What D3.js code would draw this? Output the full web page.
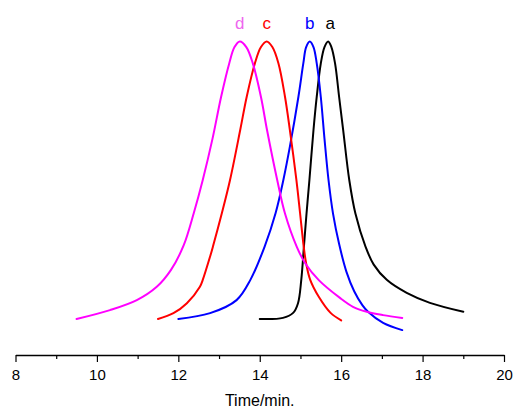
<!DOCTYPE html>
<html>
<head>
<meta charset="utf-8">
<script src="https://cdnjs.cloudflare.com/ajax/libs/d3/7.8.5/d3.min.js"></script>
<style>
html,body{margin:0;padding:0;background:#fff;}
svg{display:block;}
</style>
</head>
<body>
<svg id="chart" width="513" height="412"></svg>
<script>
// ---- data (time in min, normalised detector response) ----
const seriesNames = ["a", "b", "c", "d"];
const seriesColors = ["#000000", "#0000ff", "#ff0000", "#ff00ff"];
const labelColors = ["#000000", "#0000ff", "#ff0000", "#ee66ee"];

const timeA = [14.0, 14.57, 14.82, 14.94, 15.02, 15.085, 15.15, 15.22, 15.32, 15.40, 15.50, 15.59, 15.68, 15.76, 15.85, 15.95, 16.05, 16.20, 16.35, 16.60, 16.80, 17.12, 17.61, 18.18, 19.0];
const valA  = [0.0, 0.004, 0.022, 0.057, 0.141, 0.261, 0.382, 0.501, 0.681, 0.801, 0.921, 0.98, 1.0, 0.98, 0.921, 0.80, 0.68, 0.50, 0.38, 0.26, 0.196, 0.141, 0.094, 0.058, 0.026];

const timeB = [12.0, 12.78, 13.43, 13.77, 14.12, 14.39, 14.58, 14.74, 14.95, 15.07, 15.14, 15.23, 15.32, 15.40, 15.50, 15.59, 15.69, 15.80, 15.95, 16.13, 16.32, 16.52, 16.66, 17.03, 17.5];
const valB  = [0.0, 0.021, 0.068, 0.141, 0.261, 0.382, 0.501, 0.621, 0.801, 0.921, 0.98, 1.0, 0.98, 0.921, 0.80, 0.65, 0.50, 0.38, 0.27, 0.17, 0.10, 0.05, 0.026, -0.014, -0.040];

const timeC = [11.5, 11.88, 12.21, 12.53, 12.60, 12.78, 12.85, 13.07, 13.27, 13.52, 13.68, 13.88, 14.03, 14.17, 14.31, 14.46, 14.62, 14.74, 14.90, 14.99, 15.08, 15.14, 15.24, 15.45, 15.74, 16.0];
const valC  = [0.0, 0.021, 0.057, 0.116, 0.141, 0.225, 0.261, 0.382, 0.501, 0.681, 0.801, 0.921, 0.98, 1.0, 0.98, 0.921, 0.801, 0.681, 0.501, 0.382, 0.261, 0.20, 0.141, 0.08, 0.022, -0.005];

const timeD = [9.5, 10.32, 10.98, 11.47, 11.82, 12.13, 12.38, 12.60, 12.84, 13.05, 13.25, 13.38, 13.51, 13.67, 13.83, 14.03, 14.18, 14.43, 14.62, 14.91, 15.12, 15.45, 15.97, 16.29, 16.63, 17.03, 17.5];
const valD  = [0.0, 0.032, 0.068, 0.116, 0.177, 0.265, 0.382, 0.501, 0.65, 0.80, 0.921, 0.98, 1.0, 0.98, 0.921, 0.80, 0.68, 0.50, 0.38, 0.26, 0.20, 0.14, 0.076, 0.044, 0.026, 0.014, 0.004];

const xTicks = [8, 10, 12, 14, 16, 18, 20];
const xMinorTicks = [9, 11, 13, 15, 17, 19];
const xTitle = "Time/min.";

const series = [
  {name: seriesNames[0], color: seriesColors[0], label: labelColors[0], t: timeA, v: valA},
  {name: seriesNames[1], color: seriesColors[1], label: labelColors[1], t: timeB, v: valB},
  {name: seriesNames[2], color: seriesColors[2], label: labelColors[2], t: timeC, v: valC},
  {name: seriesNames[3], color: seriesColors[3], label: labelColors[3], t: timeD, v: valD}
];

// ---- drawing ----
const svg = d3.select("#chart");
const x = d3.scaleLinear().domain([8, 20]).range([15.5, 504]);
const y = d3.scaleLinear().domain([0, 1]).range([319, 41.5]);
const axisY = 355;

const line = d3.line()
  .x(d => x(d[0]))
  .y(d => y(d[1]))
  .curve(d3.curveCatmullRom.alpha(0.5));

series.forEach(s => {
  const pts = s.t.map((t, i) => [t, s.v[i]]);
  svg.append("path")
    .attr("d", line(pts))
    .attr("fill", "none")
    .attr("stroke", s.color)
    .attr("stroke-width", 2)
    .attr("stroke-linejoin", "round")
    .attr("stroke-linecap", "round");
  // peak label
  const iMax = d3.maxIndex(s.v);
  svg.append("text")
    .attr("x", x(s.t[iMax]) + (s.name === "a" ? 2 : 0))
    .attr("y", 29)
    .attr("text-anchor", "middle")
    .attr("font-family", "Liberation Sans, Arial, sans-serif")
    .attr("font-size", 17)
    .attr("fill", s.label)
    .text(s.name);
});

// x axis
const gx = svg.append("g").attr("transform", `translate(0,${axisY})`);
gx.append("g")
  .call(d3.axisBottom(x).tickValues(xMinorTicks).tickSize(4).tickFormat(""))
  .call(g => g.select(".domain").remove())
  .selectAll("line").attr("stroke", "#000").attr("stroke-width", 1.2);
gx.append("g")
  .call(d3.axisBottom(x).tickValues(xTicks).tickSizeInner(7).tickSizeOuter(0).tickPadding(7).tickFormat(d3.format("d")))
  .call(g => g.select(".domain").attr("stroke", "#000").attr("stroke-width", 1.5))
  .call(g => g.selectAll("line").attr("stroke", "#000").attr("stroke-width", 1.2))
  .call(g => g.selectAll("text")
    .attr("font-family", "Liberation Sans, Arial, sans-serif")
    .attr("font-size", 15)
    .attr("fill", "#000"));

svg.append("text")
  .attr("x", (x(8) + x(20)) / 2)
  .attr("y", 406)
  .attr("text-anchor", "middle")
  .attr("font-family", "Liberation Sans, Arial, sans-serif")
  .attr("font-size", 16)
  .attr("fill", "#000")
  .text(xTitle);
</script>
</body>
</html>
